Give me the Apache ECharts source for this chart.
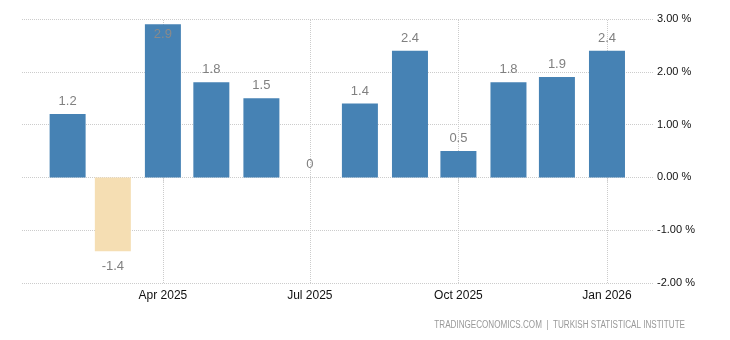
<!DOCTYPE html>
<html>
<head>
<meta charset="utf-8">
<script src="https://cdn.jsdelivr.net/npm/echarts@6/dist/echarts.min.js"></script>
<style>
html,body{margin:0;padding:0;background:#fff;}
#c{width:730px;height:340px;}
</style>
</head>
<body>
<div id="c"></div>
<script>
// Data
var months = ['2025-02-01','2025-03-01','2025-04-01','2025-05-01','2025-06-01','2025-07-01','2025-08-01','2025-09-01','2025-10-01','2025-11-01','2025-12-01','2026-01-01'];
var values = [1.2, -1.4, 2.9, 1.8, 1.5, 0, 1.4, 2.4, 0.5, 1.8, 1.9, 2.4];
var xTickDates = ['2025-04-01','2025-07-01','2025-10-01','2026-01-01'];
var yTicks = [-2, -1, 0, 1, 2, 3];
var xRange = ['2025-01-03T18:00:00Z', '2026-01-29T12:00:00Z'];
var sourceText = 'TRADINGECONOMICS.COM  |  TURKISH STATISTICAL INSTITUTE';

var MON = ['Jan','Feb','Mar','Apr','May','Jun','Jul','Aug','Sep','Oct','Nov','Dec'];
function ts(d){ return new Date(d.length > 10 ? d : d + 'T00:00:00Z').getTime(); }
function fmtDate(v){ var d = new Date(v); return MON[d.getUTCMonth()] + ' ' + d.getUTCFullYear(); }

var chart = echarts.init(document.getElementById('c'), null, {renderer:'canvas'});
var barData = months.map(function(m, i){
  var v = values[i];
  var item = {value: [ts(m), v]};
  if (v < 0) {
    item.itemStyle = {color: '#F5DEB3'};
    item.label = {position: 'bottom', distance: 9};
  } else if (v > 2.7) {
    item.label = {position: 'insideTop', distance: 4, color: '#8a8a8a', textBorderWidth: 0};
  }
  return item;
});
var tickTs = xTickDates.map(ts);

chart.setOption({
  animation: false,
  textStyle: {fontFamily: 'Arial, "Liberation Sans", sans-serif'},
  grid: {left: 22, right: 77, top: 19, bottom: 57, containLabel: false},
  xAxis: {
    type: 'value',
    min: ts(xRange[0]),
    max: ts(xRange[1]),
    axisLine: {show: false},
    axisTick: {show: true, customValues: tickTs, length: 5, lineStyle: {color: '#ccc', type: 'dotted'}},
    axisLabel: {customValues: tickTs, color: '#111', fontSize: 12, margin: 7, formatter: fmtDate},
    splitLine: {show: false}
  },
  yAxis: {
    type: 'value',
    position: 'right',
    min: yTicks[0],
    max: yTicks[yTicks.length-1],
    interval: 1,
    axisLine: {show: false},
    axisTick: {show: false},
    axisLabel: {color: '#111', fontSize: 11, margin: 4,
      formatter: function(v){ return v.toFixed(2) + ' %'; }},
    splitLine: {show: true, lineStyle: {color: '#ccc', type: 'dotted', width: 1}}
  },
  series: [{
    type: 'scatter',
    data: [],
    silent: true,
    z: 1,
    markLine: {
      silent: true,
      z: 1,
      symbol: 'none',
      label: {show: false},
      lineStyle: {color: '#ccc', type: 'dotted', width: 1},
      data: tickTs.map(function(t){ return {xAxis: t}; })
    }
  }, {
    type: 'bar',
    data: barData,
    barWidth: 36,
    itemStyle: {color: '#4682B4'},
    label: {show: true, position: 'top', distance: 6, color: '#808080', fontSize: 13, textBorderWidth: 0,
      formatter: function(p){ return String(p.value[1]); }},
    z: 3
  }],
  graphic: [{
    type: 'text',
    x: 685,
    y: 320,
    scaleX: 0.81,
    style: {text: sourceText, fill: '#999', fontSize: 10, fontFamily: 'Arial, "Liberation Sans", sans-serif', align: 'right', verticalAlign: 'top'}
  }]
});
</script>
</body>
</html>
